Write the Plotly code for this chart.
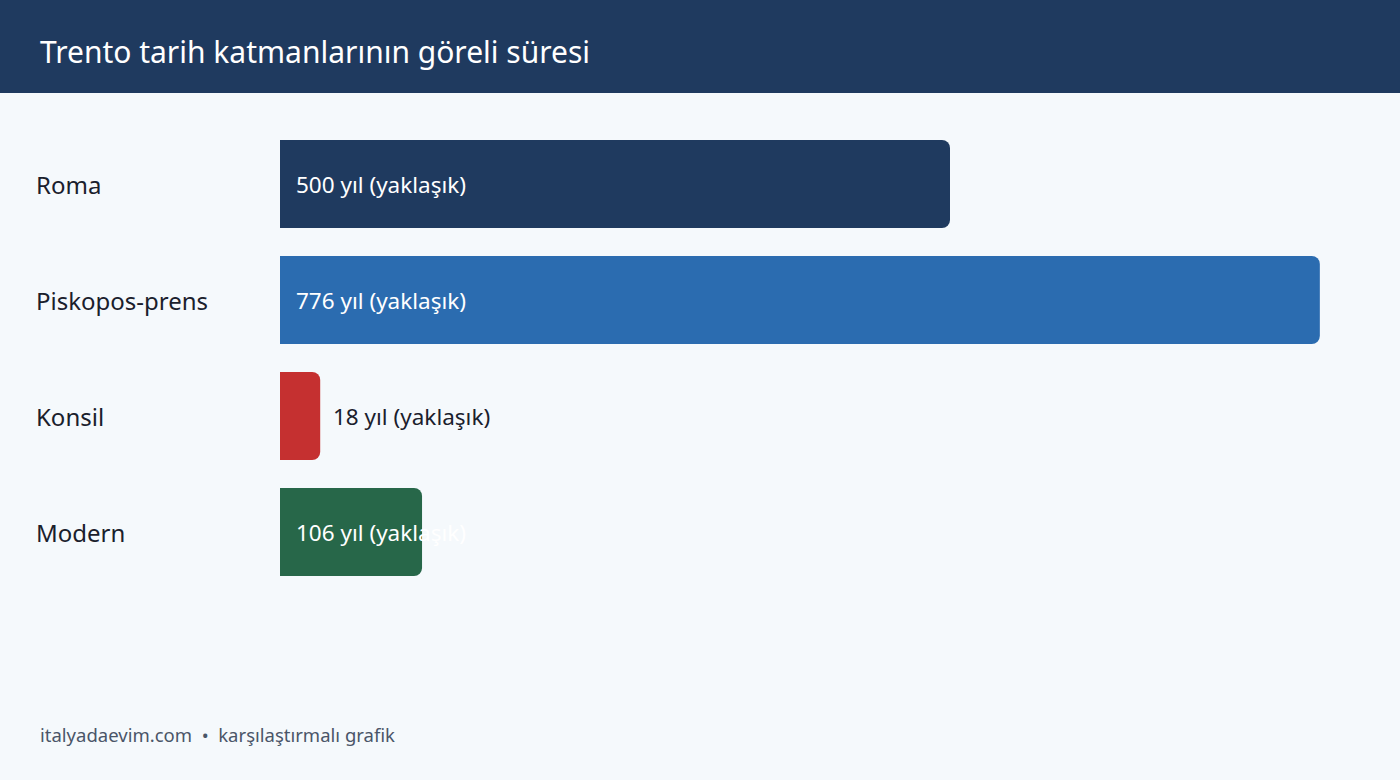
import plotly.graph_objects as go

# Data
periods = ['Roma', 'Piskopos-prens', 'Konsil', 'Modern']
years = [500, 776, 18, 106]
labels = ['500 yıl (yaklaşık)', '776 yıl (yaklaşık)', '18 yıl (yaklaşık)', '106 yıl (yaklaşık)']
colors = ['#1f3a5f', '#2b6cb0', '#c53030', '#276749']

title = 'Trento tarih katmanlarının göreli süresi'
footer = 'italyadaevim.com  •  karşılaştırmalı grafik'

FONT = 'Noto Sans'
W, H = 1400, 780
PX_PER_YEAR = 1.34
MIN_LEN = 30  # short bars keep a visible width

shown = [max(v, MIN_LEN) for v in years]

fig = go.Figure()
fig.add_trace(go.Bar(
    y=periods, x=shown, orientation='h',
    marker=dict(color=colors, line=dict(width=0), cornerradius=8),
    hoverinfo='skip', showlegend=False,
))

# header band
fig.add_shape(type='rect', xref='paper', yref='paper', x0=0, x1=1,
              y0=1 - 93 / H, y1=1, fillcolor='#1f3a5f', line_width=0, layer='below')

annots = []
annots.append(dict(text=title, xref='paper', yref='paper', x=38 / W, y=1 - 52 / H,
                   xanchor='left', yanchor='middle', showarrow=False,
                   font=dict(family=FONT, size=30, color='white')))
annots.append(dict(text=footer, xref='paper', yref='paper', x=38 / W, y=1 - 734 / H,
                   xanchor='left', yanchor='middle', showarrow=False,
                   font=dict(family=FONT, size=18.5, color='#4a5568')))

for p, v, s, lab in zip(periods, years, shown, labels):
    # category name on the left
    annots.append(dict(text=p, xref='paper', yref='y', x=34 / W, y=p,
                       xanchor='left', yanchor='middle', showarrow=False,
                       font=dict(family=FONT, size=24, color='#1a202c')))
    if v > 50:
        annots.append(dict(text=lab, xref='x', yref='y', x=0, y=p, xshift=14,
                           xanchor='left', yanchor='middle', showarrow=False,
                           font=dict(family=FONT, size=22.5, color='white')))
    else:
        annots.append(dict(text=lab, xref='x', yref='y', x=s, y=p, xshift=11,
                           xanchor='left', yanchor='middle', showarrow=False,
                           font=dict(family=FONT, size=22.5, color='#1a202c')))

fig.update_layout(
    width=W, height=H,
    margin=dict(l=0, r=0, t=0, b=0),
    paper_bgcolor='#f5f9fc', plot_bgcolor='rgba(0,0,0,0)',
    bargap=28 / 116,
    annotations=annots,
    font=dict(family=FONT),
)
fig.update_xaxes(domain=[280 / W, 1], range=[0, (W - 280) / PX_PER_YEAR],
                 visible=False, fixedrange=True)
fig.update_yaxes(domain=[1 - 590 / H, 1 - 126 / H], range=[len(periods) - 0.5, -0.5],
                 type='category', categoryarray=periods, visible=False, fixedrange=True)

fig.write_html('out.html', config={'displayModeBar': False},
               post_script="document.body.style.margin='0';")
